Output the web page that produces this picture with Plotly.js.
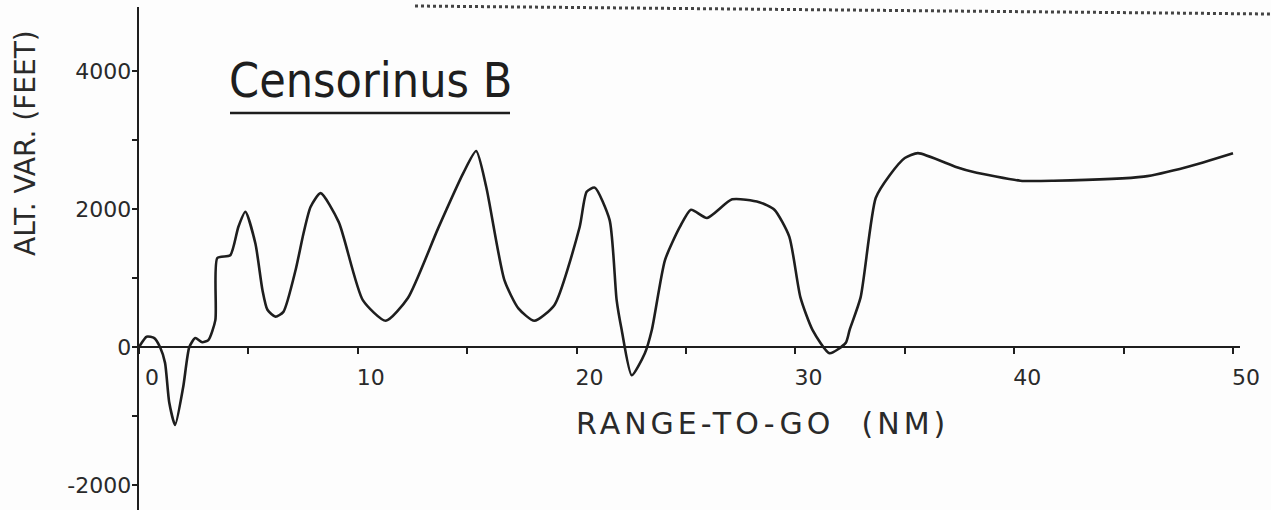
<!DOCTYPE html>
<html>
<head>
<meta charset="utf-8">
<script src="https://cdn.plot.ly/plotly-3.0.1.min.js"></script>
<style>
  html, body { margin: 0; padding: 0; background: #fdfdfd; }
  #chart { width: 1271px; height: 510px; }
</style>
</head>
<body>
<div id="chart"></div>
<script>
// Range-to-go (NM) and altitude variation (feet)
const rangeNM = [0, 0.35, 0.7, 0.96, 1.19, 1.38, 1.65, 2.02, 2.3, 2.57,
  2.89, 3.17, 3.49, 3.58, 4.17, 4.54, 4.86, 5.32, 5.64, 5.87,
  6.24, 6.6, 7.16, 7.52, 7.84, 8.3, 9.13, 10.23, 11.28, 12.29,
  13.67, 14.82, 15.41, 15.87, 16.7, 17.34, 18.07, 18.99, 20.14, 20.46,
  20.83, 21.51, 21.83, 22.06, 22.52, 23.12, 23.44, 24.04, 24.72, 25.23,
  25.96, 27.11, 28.35, 29.04, 29.72, 30.23, 30.78, 31.56, 32.3, 32.48,
  32.98, 33.67, 34.31, 35.0, 35.6, 37.34, 38.1, 40.28, 41.8, 45.92,
  47.9, 50.0];
const altFt = [0, 150, 130, 0, -230, -800, -1130, -580, 0, 130,
  70, 100, 390, 1290, 1330, 1740, 1960, 1500, 830, 540,
  440, 510, 1120, 1650, 2030, 2230, 1810, 680, 380, 710,
  1720, 2520, 2840, 2320, 970, 560, 380, 610, 1740, 2250,
  2310, 1840, 680, 250, -410, -90, 250, 1260, 1740, 1990,
  1870, 2140, 2100, 1990, 1600, 720, 250, -90, 60, 250,
  720, 2160, 2490, 2740, 2810, 2610, 2540, 2410, 2410, 2470,
  2610, 2810];

const xTickVals = [0, 5, 10, 15, 20, 25, 30, 35, 40, 45, 50];
const xTickText = ['0', '', '10', '', '20', '', '30', '', '40', '', '50'];
const yTickVals = [-2000, -1000, 0, 1000, 2000, 3000, 4000];
const yTickText = ['-2000', '', '0', '', '2000', '', '4000'];

const chartTitle = 'Censorinus B';
const xTitle = 'RANGE-TO-GO  (NM)';
const yTitle = 'ALT. VAR. (FEET)';

const ink = '#1e1e1e';
const W = 1271, H = 510;
const px = v => v / W;
const py = v => 1 - v / H;

const trace = {
  x: rangeNM,
  y: altFt,
  type: 'scatter',
  mode: 'lines',
  line: { color: ink, width: 2.6, shape: 'spline', smoothing: 0.6 },
  hoverinfo: 'x+y'
};

const layout = {
  width: W,
  height: H,
  margin: { l: 0, r: 0, t: 0, b: 0 },
  paper_bgcolor: '#fdfdfd',
  plot_bgcolor: 'rgba(0,0,0,0)',
  showlegend: false,
  xaxis: {
    domain: [px(139), px(1240)],
    range: [0, 50.32],
    anchor: 'free',
    position: (H - 347) / H,
    showgrid: false,
    zeroline: false,
    showline: true,
    linecolor: ink,
    linewidth: 2,
    ticks: 'outside',
    ticklen: 6,
    tickwidth: 2,
    tickcolor: ink,
    tickmode: 'array',
    tickvals: xTickVals,
    ticktext: xTickText,
    ticklabelshift: 13,
    ticklabelstandoff: 5,
    tickfont: { family: 'DejaVu Sans', size: 22, color: '#2a2a2a' },
    fixedrange: true
  },
  yaxis: {
    domain: [0, 1 - 7 / H],
    range: [-2362, 4928],
    anchor: 'x',
    showgrid: false,
    zeroline: false,
    showline: true,
    linecolor: ink,
    linewidth: 2.4,
    ticks: 'outside',
    ticklen: 5,
    tickwidth: 2,
    tickcolor: ink,
    tickmode: 'array',
    tickvals: yTickVals,
    ticktext: yTickText,
    ticklabelstandoff: -4,
    tickfont: { family: 'DejaVu Sans', size: 22, color: '#2a2a2a' },
    fixedrange: true
  },
  annotations: [
    {
      text: chartTitle, xref: 'paper', yref: 'paper',
      x: px(370), y: py(80), xanchor: 'center', yanchor: 'middle',
      showarrow: false,
      font: { family: 'DejaVu Sans Condensed, Liberation Sans Narrow, sans-serif', size: 48, color: ink, weight: 300 }
    },
    {
      text: xTitle, xref: 'paper', yref: 'paper',
      x: px(762), y: py(423), xanchor: 'center', yanchor: 'middle',
      showarrow: false,
      font: { family: 'DejaVu Sans', size: 30, color: '#2a2a2a' }
    },
    {
      text: yTitle, xref: 'paper', yref: 'paper',
      x: px(25), y: py(143), xanchor: 'center', yanchor: 'middle',
      textangle: -90, showarrow: false,
      font: { family: 'DejaVu Sans', size: 28, color: '#2a2a2a' }
    }
  ],
  shapes: [
    {
      type: 'line', xref: 'paper', yref: 'paper',
      x0: px(230), x1: px(510), y0: py(113), y1: py(113),
      line: { color: ink, width: 2.5 }
    },
    {
      type: 'line', xref: 'paper', yref: 'paper',
      x0: px(415), x1: px(1271), y0: py(6), y1: py(14),
      line: { color: '#444', width: 3, dash: 'dot' }
    }
  ]
};

Plotly.newPlot('chart', [trace], layout, { displayModeBar: false, staticPlot: true }).then(() => {
  document.querySelectorAll('.annotation-text').forEach(t => {
    if (t.textContent.indexOf('RANGE') === 0) t.setAttribute('letter-spacing', '4px');
  });
});
</script>
</body>
</html>
